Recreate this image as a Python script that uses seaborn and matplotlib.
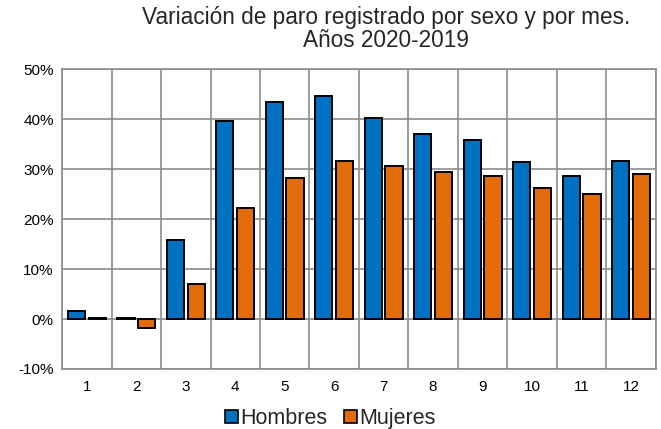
import matplotlib
matplotlib.use("Agg")
import matplotlib.pyplot as plt
import numpy as np
import pandas as pd
import seaborn as sns
from matplotlib.ticker import FixedLocator, PercentFormatter
from matplotlib.patches import Patch

meses = [str(m) for m in range(1, 13)]
hombres = [1.7, 0.3, 15.9, 39.6, 43.5, 44.6, 40.3, 37.0, 35.8, 31.5, 28.7, 31.6]
mujeres = [0.2, -1.7, 7.0, 22.2, 28.3, 31.6, 30.7, 29.5, 28.7, 26.3, 25.1, 29.0]
series = ["Hombres", "Mujeres"]
colores = ["#0070C0", "#E36C0A"]

df = pd.DataFrame({
    "mes": meses * 2,
    "valor": hombres + mujeres,
    "sexo": [series[0]] * 12 + [series[1]] * 12,
})

sns.set_style("white")
plt.rcParams["font.family"] = ["Liberation Sans", "DejaVu Sans"]
plt.rcParams["axes.unicode_minus"] = False

fig = plt.figure(figsize=(6.61, 4.29), dpi=100)
ax = fig.add_axes([0.094, 0.140, 0.898, 0.698])

sns.barplot(
    data=df, x="mes", y="valor", hue="sexo", order=meses,
    hue_order=series, palette=colores, saturation=1, width=0.84, gap=0.17,
    edgecolor="black", linewidth=1.4, ax=ax, legend=False, zorder=3,
)

ax.set_ylim(-10, 50)
ax.set_xlim(-0.5, 11.5)
ax.set_yticks(np.arange(-10, 51, 10))
ax.yaxis.set_major_formatter(PercentFormatter(decimals=0))
ax.xaxis.set_minor_locator(FixedLocator(np.arange(-0.5, 12, 1)))
ax.grid(axis="y", which="major", color="#8c8c8c", linewidth=1.2, zorder=0)
ax.grid(axis="x", which="minor", color="#8c8c8c", linewidth=1.2, zorder=0)
ax.set_axisbelow(True)
for s in ax.spines.values():
    s.set_color("#8c8c8c")
    s.set_linewidth(1.2)
ax.tick_params(axis="both", which="both", length=0, labelsize=11, colors="black")
ax.tick_params(axis="x", pad=8)
ax.tick_params(axis="y", pad=6)
ax.set_xlabel("")
ax.set_ylabel("")

fig.text(0.584, 0.985, "Variación de paro registrado por sexo y por mes.\nAños 2020-2019",
         ha="center", va="top", fontsize=16.3, linespacing=1.0)

handles = [Patch(facecolor=c, edgecolor="black", linewidth=1.2) for c in colores]
fig.legend(handles, series, loc="lower center", bbox_to_anchor=(0.5, -0.045), ncol=2,
           frameon=False, fontsize=15.5, handlelength=0.6, handleheight=0.6,
           handletextpad=0.1, columnspacing=0.8)

fig.savefig("out.png", dpi=100)
